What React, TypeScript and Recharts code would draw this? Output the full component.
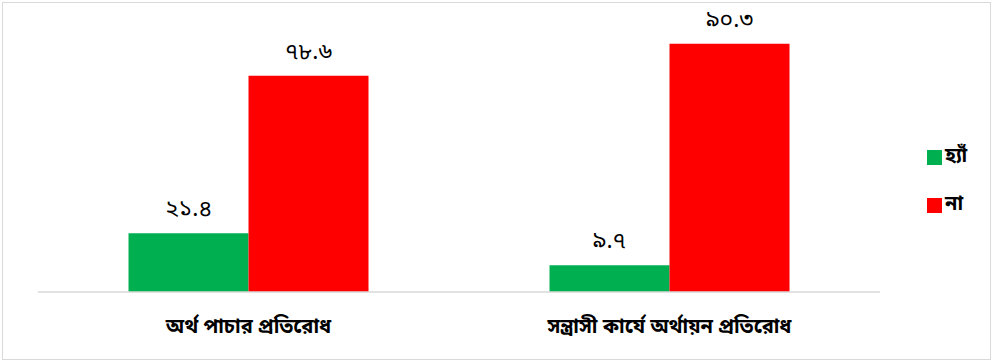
import * as React from 'react';
import { BarChart, Bar, XAxis, YAxis, LabelList } from 'recharts';

const categories = ['অর্থ পাচার প্রতিরোধ', 'সন্ত্রাসী কার্যে অর্থায়ন প্রতিরোধ'];
const yesValues = [21.4, 9.7];
const noValues = [78.6, 90.3];
const seriesNames = { yes: 'হ্যাঁ', no: 'না' };

const data = categories.map((name, i) => ({ name, yes: yesValues[i], no: noValues[i] }));

const BN_DIGITS = ['০', '১', '২', '৩', '৪', '৫', '৬', '৭', '৮', '৯'];
const toBangla = (v: any) => String(v).replace(/[0-9]/g, (d) => BN_DIGITS[Number(d)]);

const FONT = '"Noto Sans Bengali", "Noto Sans", "DejaVu Sans", sans-serif';

const legendItems = [
  { label: seriesNames.yes, color: '#00b050' },
  { label: seriesNames.no, color: '#ff0000' },
];

export default function App() {
  return (
    <div style={{ position: 'absolute', left: 0, top: 0, width: 993, height: 363, background: '#fff' }}>
      <div style={{ position: 'absolute', left: 2, top: 2, width: 987, height: 356, border: '1px solid #d9d9d9' }} />
      <BarChart
        width={993}
        height={363}
        data={data}
        margin={{ top: 17, right: 113, left: 38, bottom: 0 }}
        barCategoryGap="21.5%"
        barGap={0}
      >
        <XAxis
          dataKey="name"
          height={71}
          tickLine={false}
          axisLine={{ stroke: '#d9d9d9', strokeWidth: 1.5 }}
          tick={{ fill: '#000', fontSize: 20, fontWeight: 700, fontFamily: FONT }}
          dy={19}
        />
        <YAxis hide domain={[0, 100]} />
        <Bar dataKey="yes" fill="#00b050" isAnimationActive={false}>
          <LabelList
            dataKey="yes"
            position="top"
            offset={17}
            formatter={toBangla}
            style={{ fill: '#000', fontSize: 23, fontFamily: FONT }}
          />
        </Bar>
        <Bar dataKey="no" fill="#ff0000" isAnimationActive={false}>
          <LabelList
            dataKey="no"
            position="top"
            offset={17}
            formatter={toBangla}
            style={{ fill: '#000', fontSize: 23, fontFamily: FONT }}
          />
        </Bar>
      </BarChart>
      <div style={{ position: 'absolute', left: 927, top: 133, fontFamily: FONT }}>
        {legendItems.map((it) => (
          <div key={it.label} style={{ display: 'flex', alignItems: 'center', height: 48 }}>
            <span style={{ width: 15, height: 15, background: it.color, display: 'inline-block', marginRight: 3 }} />
            <span style={{ fontSize: 20, fontWeight: 700, color: '#000' }}>{it.label}</span>
          </div>
        ))}
      </div>
    </div>
  );
}
